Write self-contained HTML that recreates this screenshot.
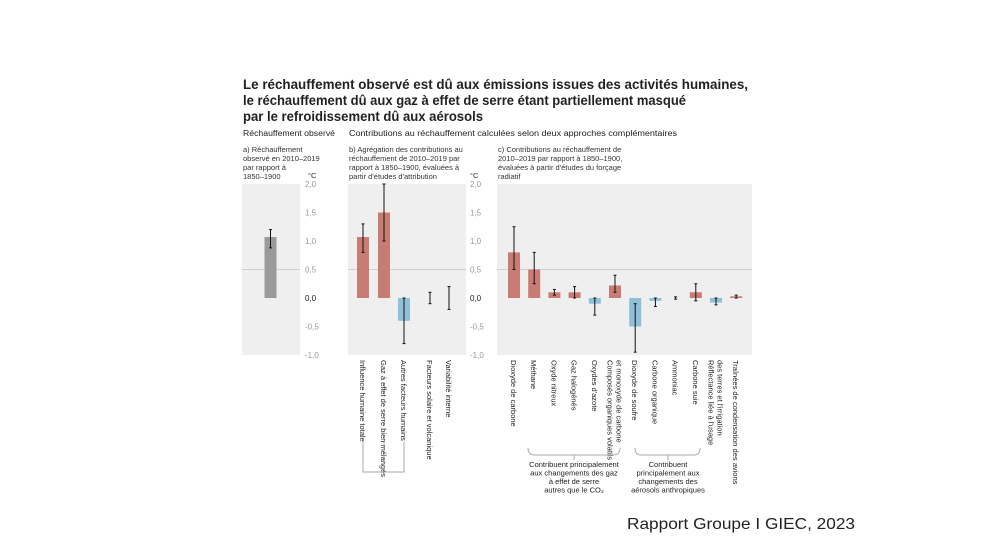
<!DOCTYPE html>
<html><head><meta charset="utf-8"><style>
body{margin:0;background:#fff;}
svg{display:block;font-family:"Liberation Sans",sans-serif;}
</style></head><body>
<svg id="chart" width="985" height="554" viewBox="0 0 985 554" xmlns="http://www.w3.org/2000/svg">
<g font-weight="bold" font-size="14" fill="#222">
<text x="243" y="89" textLength="505" lengthAdjust="spacingAndGlyphs">Le réchauffement observé est dû aux émissions issues des activités humaines,</text>
<text x="243" y="105" textLength="443" lengthAdjust="spacingAndGlyphs">le réchauffement dû aux gaz à effet de serre étant partiellement masqué</text>
<text x="243" y="121" textLength="240" lengthAdjust="spacingAndGlyphs">par le refroidissement dû aux aérosols</text>
</g>
<g font-size="8" fill="#222">
<text x="243" y="136" textLength="92" lengthAdjust="spacingAndGlyphs">Réchauffement observé</text>
<text x="349" y="136" textLength="328" lengthAdjust="spacingAndGlyphs">Contributions au réchauffement calculées selon deux approches complémentaires</text>
</g>
<g font-size="7.5" fill="#333">
<text x="243" y="152">a) Réchauffement</text><text x="243" y="161">observé en 2010–2019</text><text x="243" y="170">par rapport à</text><text x="243" y="179">1850–1900</text>
<text x="349" y="152">b) Agrégation des contributions au</text><text x="349" y="161">réchauffement de 2010–2019 par</text><text x="349" y="170">rapport à 1850–1900, évaluées à</text><text x="349" y="179">partir d'études d'attribution</text>
<text x="498" y="152">c) Contributions au réchauffement de</text><text x="498" y="161">2010–2019 par rapport à 1850–1900,</text><text x="498" y="170">évaluées à partir d'études du forçage</text><text x="498" y="179">radiatif</text>
<text x="308" y="178">°C</text><text x="470" y="178">°C</text>
</g>
<g id="plot"></g>
<text x="627" y="529" font-size="16" textLength="228" lengthAdjust="spacingAndGlyphs" fill="#222">Rapport Groupe I GIEC, 2023</text>
</svg>
<script>
const ticks=[2.0,1.5,1.0,0.5,0.0,-0.5,-1.0];
const tickLabels=["2,0","1,5","1,0","0,5","0,0","-0,5","-1,0"];
const aVals=[1.07];const aLo=[0.88];const aHi=[1.2];
const bCats=["Influence humaine totale","Gaz à effet de serre bien mélangés","Autres facteurs humains","Facteurs solaire et volcanique","Variabilité interne"];
const bVals=[1.07,1.5,-0.4,0,0];
const bLo=[0.8,1.0,-0.8,-0.1,-0.2];
const bHi=[1.3,2.0,0.0,0.1,0.2];
const cCats=["Dioxyde de carbone","Méthane","Oxyde nitreux","Gaz halogénés","Oxydes d'azote","Composés organiques volatils|et monoxyde de carbone","Dioxyde de soufre","Carbone organique","Ammoniac","Carbone suie","Réflectance liée à l'usage|des terres et l'irrigation","Traînées de condensation des avions"];
const cVals=[0.8,0.5,0.1,0.1,-0.1,0.22,-0.5,-0.05,0.0,0.1,-0.08,0.03];
const cLo=[0.5,0.25,0.05,0.0,-0.3,0.1,-0.95,-0.15,-0.02,-0.05,-0.12,0.0];
const cHi=[1.25,0.8,0.15,0.2,0.0,0.4,-0.1,0.0,0.02,0.25,0.0,0.05];

const NS="http://www.w3.org/2000/svg";
const plot=document.getElementById('plot');
const y=v=>298-v*57;
function el(t,a,p){const e=document.createElementNS(NS,t);for(const k in a)e.setAttribute(k,a[k]);(p||plot).appendChild(e);return e;}
function panel(x0,x1,name){
 const r=el('rect',{x:x0,y:y(2),width:x1-x0,height:y(-1)-y(2),fill:'#efefef'});
 
 
 const g=el('line',{x1:x0,x2:x1,y1:y(0.5),y2:y(0.5),stroke:'#cfcfcf','stroke-width':1});
 
 
}
function axis(x,name){
 ticks.forEach((t,i)=>{const tx=el('text',{x:x,y:y(t)+3,'font-size':8,fill:t===0?'#222':'#999'});tx.textContent=tickLabels[i];
 
 });
}
function bar(cx,v,lo,hi,name,w){
 const col=v>=0?'#c97c74':'#8fbfd9';
 const top=Math.min(y(v),y(0)),h=Math.abs(y(v)-y(0));
 if(h>0.5){const b=el('rect',{x:cx-w/2,y:top,width:w,height:h,fill:name==='bar-observed'?'#9a9a9a':col});
 
 }
 const e=el('line',{x1:cx,x2:cx,y1:y(hi),y2:y(lo),stroke:'#111','stroke-width':1});
 
 
 [hi,lo].forEach(v2=>el('line',{x1:cx-1.5,x2:cx+1.5,y1:y(v2),y2:y(v2),stroke:'#111','stroke-width':1}));
}
function label(cx,txt,name){
 const parts=txt.split('|');
 parts.forEach((p,i)=>{
  const off=(i-(parts.length-1)/2)*9;
  const t=el('text',{x:0,y:0,'font-size':7.5,fill:'#222',transform:`translate(${cx-3+off},360) rotate(90)`});
  t.textContent=p;
  
  
 });
}
panel(242,300,'panel-a');axis(305,'panel-a');
panel(348,466,'panel-b');axis(470,'panel-b');
panel(497,752,'panel-c');
bar(270.5,aVals[0],aLo[0],aHi[0],'bar-observed',12);
const bX=[363,384,404,430,449];
bCats.forEach((c,i)=>{
 bar(bX[i],bVals[i],bLo[i],bHi[i],'bar-b-'+i,i<3?12:0);
 label(bX[i],c,'category-b-'+i);
});
cCats.forEach((c,i)=>{
 const cx=514+i*20.2;
 bar(cx,cVals[i],cLo[i],cHi[i],'bar-c-'+i,12);
 label(cx,c,'category-c-'+i);
});
const br=[['M363,442 V472 H404 V442 M384,472 V442','bracket-b'],['M528,448 Q528,455 535,455 H613 Q620,455 620,448 M574,455 V460','bracket-ghg'],['M635,448 Q635,455 641,455 H694 Q700,455 700,448 M668,455 V460','bracket-aerosols']];
br.forEach(b=>{const p=el('path',{d:b[0],fill:'none',stroke:'#aaa','stroke-width':1});

});
const notes=[[574,["Contribuent principalement","aux changements des gaz","à effet de serre","autres que le CO₂"],'note-ghg'],[668,["Contribuent","principalement aux","changements des","aérosols anthropiques"],'note-aerosols']];
notes.forEach(n=>n[1].forEach((l,i)=>{const t=el('text',{x:n[0],y:467+i*8.5,'font-size':7.5,fill:'#222','text-anchor':'middle'});t.textContent=l;

}));
</script>
</body></html>
